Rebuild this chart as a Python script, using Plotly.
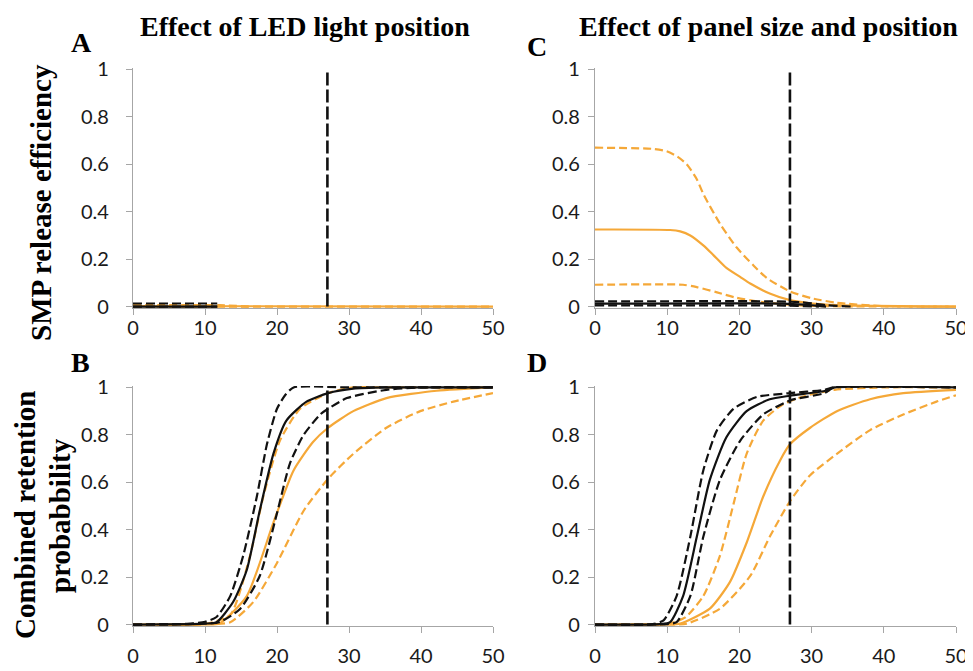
import plotly.graph_objects as go

# ---------------- data ----------------
THRESHOLD = 27

# Panel A (SMP release efficiency, LED light position)
A_black_up_x = [0, 11.7]
A_black_up_y = [0.013, 0.013]
A_black_mid_x = [0, 11.7]
A_black_mid_y = [0.0, 0.0]
A_black_lo_x = [0, 11.7]
A_black_lo_y = [0.0, 0.0]
A_orange_up_x = [0, 12, 16]
A_orange_up_y = [0.006, 0.006, 0.0]
A_orange_mid_x = [0, 50]
A_orange_mid_y = [0.002, 0.0]
A_orange_lo_x = [0, 50]
A_orange_lo_y = [0.0, 0.0]

# Panel B (combined retention, LED light position)
B_black_up_x = [0, 7.5, 10, 11.6, 13.5, 15.3, 17.2, 18.6, 20.0, 21.2, 22.3, 30, 50]
B_black_up_y = [0, 0.003, 0.012, 0.032, 0.12, 0.29, 0.54, 0.76, 0.91, 0.97, 1.0, 1.0, 1.0]
B_black_mid_x = [0, 8, 10, 11.6, 13.9, 15.8, 17.6, 19.5, 21.3, 24.1, 27.1, 30.6, 35, 50]
B_black_mid_y = [0, 0.002, 0.004, 0.01, 0.095, 0.23, 0.48, 0.72, 0.86, 0.94, 0.976, 0.995, 1.0, 1.0]
B_black_lo_x = [0, 8, 10, 12, 14.9, 17.6, 20, 21.8, 23.7, 26, 27.1, 29.7, 35.2, 40, 50]
B_black_lo_y = [0, 0.002, 0.005, 0.01, 0.067, 0.205, 0.47, 0.68, 0.80, 0.886, 0.91, 0.955, 0.99, 1.0, 1.0]
B_orange_up_x = [0, 10, 13.5, 16.25, 18.1, 20.4, 23.2, 27.1, 30.6, 35, 50]
B_orange_up_y = [0, 0.003, 0.04, 0.29, 0.54, 0.775, 0.91, 0.976, 1.0, 1.0, 1.0]
B_orange_mid_x = [0, 10, 12, 15.8, 19.5, 22.3, 25, 27.1, 30.6, 35.2, 42.2, 50]
B_orange_mid_y = [0, 0.001, 0.005, 0.12, 0.43, 0.65, 0.77, 0.83, 0.9, 0.955, 0.986, 1.0]
B_orange_lo_x = [0, 10, 13.5, 16.7, 20, 23.7, 27.1, 30.6, 35.2, 39.9, 44.5, 50]
B_orange_lo_y = [0, 0.002, 0.01, 0.095, 0.26, 0.48, 0.615, 0.72, 0.83, 0.9, 0.94, 0.976]

# Panel C (SMP release efficiency, panel size and position)
C_black_up_x = [0, 25, 28.8, 32, 35.7]
C_black_up_y = [0.022, 0.022, 0.018, 0.006, 0.0]
C_black_mid_x = [0, 26, 29, 32]
C_black_mid_y = [0.0125, 0.0125, 0.008, 0.0]
C_black_lo_x = [0, 25, 28, 31]
C_black_lo_y = [0.005, 0.005, 0.003, 0.0]
C_orange_up_x = [0, 8.0, 9.9, 11.4, 12.7, 14.1, 15.0, 17.3, 19.6, 21.9, 23.8, 27, 30, 33.5, 40, 50]
C_orange_up_y = [0.67, 0.665, 0.655, 0.633, 0.6, 0.537, 0.475, 0.35, 0.25, 0.175, 0.12, 0.064, 0.035, 0.016, 0.002, 0]
C_orange_mid_x = [0, 10.4, 11.8, 13.2, 15.0, 16.4, 18.2, 20.1, 21.5, 24.2, 27, 29.8, 33.5, 50]
C_orange_mid_y = [0.325, 0.323, 0.317, 0.30, 0.258, 0.217, 0.163, 0.125, 0.097, 0.055, 0.027, 0.014, 0.006, 0]
C_orange_lo_x = [0, 12.2, 14.1, 16.9, 19.6, 22.4, 25.2, 28.8, 35, 50]
C_orange_lo_y = [0.092, 0.092, 0.082, 0.06, 0.037, 0.022, 0.0125, 0.004, 0.001, 0]

# Panel D (combined retention, panel size and position)
D_black_up_x = [0, 8, 9.5, 11.3, 13.2, 15, 16.9, 19.2, 22.4, 27, 31.8, 33, 50]
D_black_up_y = [0, 0.002, 0.018, 0.12, 0.37, 0.65, 0.82, 0.91, 0.96, 0.976, 0.99, 1, 1]
D_black_mid_x = [0, 9, 10.4, 12.2, 14.1, 15.9, 18.2, 21, 24.2, 27, 31.8, 33.2, 50]
D_black_mid_y = [0, 0.002, 0.01, 0.12, 0.37, 0.61, 0.79, 0.9, 0.95, 0.965, 0.985, 1, 1]
D_black_lo_x = [0, 10, 11.3, 13.2, 15, 17.3, 20.1, 23.3, 27, 31.8, 33.1, 50]
D_black_lo_y = [0, 0.002, 0.01, 0.12, 0.37, 0.61, 0.775, 0.886, 0.945, 0.976, 1, 1]
D_orange_up_x = [0, 9, 10.4, 12.5, 15, 17.3, 19.2, 21, 23.3, 26.1, 29.2, 33.2, 40, 50]
D_orange_up_y = [0, 0.001, 0.005, 0.03, 0.12, 0.29, 0.51, 0.72, 0.86, 0.93, 0.965, 0.99, 1, 1]
D_orange_mid_x = [0, 10, 11.8, 15.9, 18.7, 21, 23.3, 25.6, 27, 29.8, 33.5, 38.1, 42.7, 50]
D_orange_mid_y = [0, 0.001, 0.004, 0.067, 0.18, 0.345, 0.54, 0.69, 0.76, 0.83, 0.9, 0.95, 0.976, 0.99]
D_orange_lo_x = [0, 10, 12.7, 17.3, 21.5, 24.2, 27, 29.8, 33.5, 38.1, 42.7, 47.3, 50]
D_orange_lo_y = [0, 0.001, 0.004, 0.067, 0.205, 0.37, 0.52, 0.63, 0.72, 0.82, 0.886, 0.94, 0.967]

X_TICKS = [0, 10, 20, 30, 40, 50]
Y_TICKS = [0, 0.2, 0.4, 0.6, 0.8, 1]
Y_TICK_LABELS = ["0", "0.2", "0.4", "0.6", "0.8", "1"]

TITLE_LEFT = "Effect of LED light position"
TITLE_RIGHT = "Effect of panel size and position"
YTITLE_TOP = "SMP release efficiency"
YTITLE_BOT_1 = "Combined retention"
YTITLE_BOT_2 = "probabbility"
PANEL_LETTERS = ["A", "B", "C", "D"]

# ---------------- style ----------------
ORANGE = "#F5A838"
BLACK = "#111111"
AXIS_GRAY = "#A6A6A6"
W, H = 973, 671
PAGE_OFFSET = 8  # default body margin of the page

fig = go.Figure()

panels = {
    "A": ("x", "y", [(A_orange_lo_x, A_orange_lo_y, "o", "dash"), (A_orange_mid_x, A_orange_mid_y, "o", "solid"),
                     (A_orange_up_x, A_orange_up_y, "o", "dash"),
                     (A_black_lo_x, A_black_lo_y, "k", "dash"), (A_black_mid_x, A_black_mid_y, "k", "solid"),
                     (A_black_up_x, A_black_up_y, "k", "dash")]),
    "B": ("x2", "y2", [(B_orange_lo_x, B_orange_lo_y, "o", "dash"), (B_orange_mid_x, B_orange_mid_y, "o", "solid"),
                       (B_orange_up_x, B_orange_up_y, "o", "dash"),
                       (B_black_lo_x, B_black_lo_y, "k", "dash"), (B_black_mid_x, B_black_mid_y, "k", "solid"),
                       (B_black_up_x, B_black_up_y, "k", "dash")]),
    "C": ("x3", "y3", [(C_orange_lo_x, C_orange_lo_y, "o", "dash"), (C_orange_mid_x, C_orange_mid_y, "o", "solid"),
                       (C_orange_up_x, C_orange_up_y, "o", "dash"),
                       (C_black_lo_x, C_black_lo_y, "k", "dash"), (C_black_mid_x, C_black_mid_y, "k", "solid"),
                       (C_black_up_x, C_black_up_y, "k", "dash")]),
    "D": ("x4", "y4", [(D_orange_lo_x, D_orange_lo_y, "o", "dash"), (D_orange_mid_x, D_orange_mid_y, "o", "solid"),
                       (D_orange_up_x, D_orange_up_y, "o", "dash"),
                       (D_black_lo_x, D_black_lo_y, "k", "dash"), (D_black_mid_x, D_black_mid_y, "k", "solid"),
                       (D_black_up_x, D_black_up_y, "k", "dash")]),
}

for key, (xa, ya, series) in panels.items():
    for xs, ys, col, dash in series:
        color = ORANGE if col == "o" else BLACK
        if dash == "dash":
            d = "8px,4px" if col == "o" else "9px,4px"
        else:
            d = "solid"
        fig.add_trace(go.Scatter(
            x=xs, y=ys, xaxis=xa, yaxis=ya, mode="lines",
            line=dict(color=color, width=2.2, dash=d, shape="spline", smoothing=0.6),
            showlegend=False, hoverinfo="skip"))
    fig.add_trace(go.Scatter(
        x=[THRESHOLD, THRESHOLD], y=[0, 1], xaxis=xa, yaxis=ya, mode="lines",
        line=dict(color=BLACK, width=2.6, dash="13px,4px"),
        showlegend=False, hoverinfo="skip"))


def px_x(p):
    return (p - PAGE_OFFSET) / W


def px_y(p):
    return 1 - (p - PAGE_OFFSET) / H


x_left = [px_x(133), px_x(493)]
x_right = [px_x(595), px_x(956)]
y_top = [px_y(308), px_y(68)]
y_bot = [px_y(626), px_y(386)]

tick_font = dict(family="Lato, Carlito, Calibri, sans-serif", size=20, color="#1a1a1a")


def xax(domain, anchor, standoff):
    return dict(domain=domain, anchor=anchor, range=[0, 50], tickvals=X_TICKS,
                showline=True, linecolor=AXIS_GRAY, linewidth=1.3, ticks="outside",
                ticklen=6, tickcolor=AXIS_GRAY, tickwidth=1.3, showgrid=False,
                zeroline=False, tickfont=tick_font, fixedrange=True, ticklabelstandoff=standoff)


def yax(domain, anchor, standoff):
    return dict(domain=domain, anchor=anchor, range=[-0.006, 1.006], tickvals=Y_TICKS,
                ticktext=Y_TICK_LABELS, showline=True, linecolor=AXIS_GRAY, linewidth=1.3,
                ticks="outside", ticklen=6, tickcolor=AXIS_GRAY, tickwidth=1.3,
                showgrid=False, zeroline=False, tickfont=tick_font, fixedrange=True,
                ticklabelstandoff=standoff)


serif = "Liberation Serif, Times New Roman, serif"
sfont = dict(family=serif, size=28, color="black")

annotations = [
    dict(text=f"<b>{TITLE_LEFT}</b>", x=px_x(305), y=px_y(26), font=sfont),
    dict(text=f"<b>{TITLE_RIGHT}</b>", x=px_x(768), y=px_y(26), font=sfont),
    dict(text=f"<b>{PANEL_LETTERS[0]}</b>", x=px_x(81), y=px_y(42), font=sfont),
    dict(text=f"<b>{PANEL_LETTERS[1]}</b>", x=px_x(80), y=px_y(362), font=sfont),
    dict(text=f"<b>{PANEL_LETTERS[2]}</b>", x=px_x(537), y=px_y(46), font=sfont),
    dict(text=f"<b>{PANEL_LETTERS[3]}</b>", x=px_x(537), y=px_y(362), font=sfont),
    dict(text=f"<b>{YTITLE_TOP}</b>", x=px_x(41), y=px_y(203), textangle=-90,
         font=dict(family=serif, size=29, color="black")),
    dict(text=f"<b>{YTITLE_BOT_1}</b>", x=px_x(25), y=px_y(515), textangle=-90,
         font=dict(family=serif, size=29, color="black")),
    dict(text=f"<b>{YTITLE_BOT_2}</b>", x=px_x(60), y=px_y(516), textangle=-90,
         font=dict(family=serif, size=29, color="black")),
]
for a in annotations:
    a.update(xref="paper", yref="paper", showarrow=False, xanchor="center", yanchor="middle")

fig.update_layout(
    width=W, height=H, margin=dict(l=0, r=0, t=0, b=0, autoexpand=False),
    paper_bgcolor="white", plot_bgcolor="white",
    xaxis=xax(x_left, "y", -4), yaxis=yax(y_top, "x", 13),
    xaxis2=xax(x_left, "y2", 6), yaxis2=yax(y_bot, "x2", 13),
    xaxis3=xax(x_right, "y3", -4), yaxis3=yax(y_top, "x3", 4),
    xaxis4=xax(x_right, "y4", 6), yaxis4=yax(y_bot, "x4", 4),
    annotations=annotations,
)

fig.write_html("out.html")
